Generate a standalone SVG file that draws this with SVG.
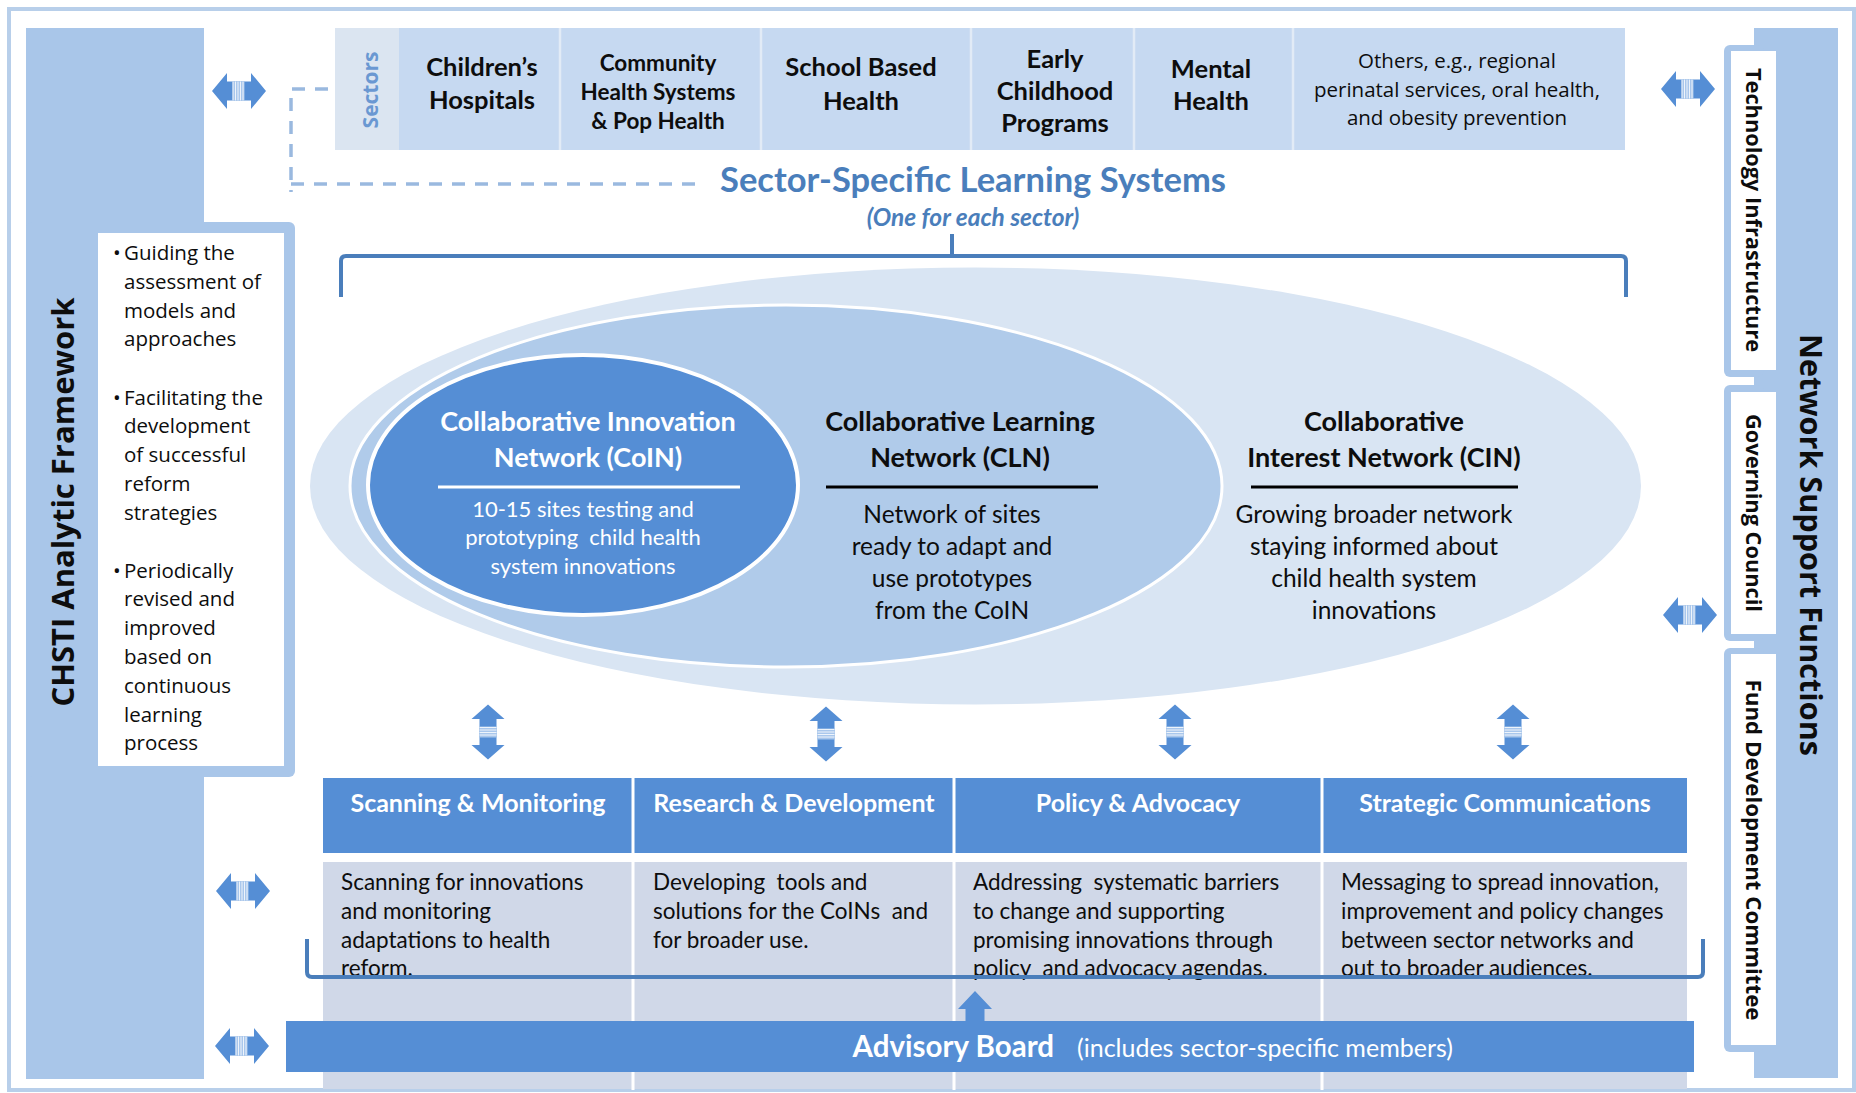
<svg xmlns="http://www.w3.org/2000/svg" xmlns:xlink="http://www.w3.org/1999/xlink" width="1856" height="1093" viewBox="0 0 1856 1093">
<style>
  .cal{font-family:Lato,"Open Sans","Liberation Sans",sans-serif}
  .seg{font-family:"Open Sans","Noto Sans","Liberation Sans",sans-serif}
  .b{font-weight:700}
  .it{font-style:italic}
  .mid{text-anchor:middle}
  .w{fill:#ffffff}
  .k{fill:#0d0d0d}
  .blue{fill:#4a7ebb}
  .panel{fill:#a9c6e9}
  .line{fill:none;stroke:#4a7ebb;stroke-width:4;stroke-linecap:butt}
  .dash{fill:none;stroke:#9ab9df;stroke-width:3.5;stroke-dasharray:13 10}
  .arrow{fill:#558ed5}
  .stripe{stroke:#ffffff;stroke-width:0.9;opacity:0.9}
</style>
<defs>
  <g id="harrow">
    <path class="arrow" d="M-27 0 L-12 -18 L-12 -9.5 L12 -9.5 L12 -18 L27 0 L12 18 L12 9.5 L-12 9.5 L-12 18 Z"/>
    <rect x="-6.5" y="-9.5" width="12" height="19" fill="#a9c7ec"/>
    <path class="stripe" d="M-6 -9.5V9.5M-3.5 -9.5V9.5M-1 -9.5V9.5M1.5 -9.5V9.5M4 -9.5V9.5"/>
  </g>
  <g id="varrow">
    <path class="arrow" d="M0 -27.5 L16.5 -13 H8.5 V13 H16.5 L0 27.5 L-16.5 13 H-8.5 V-13 H-16.5 Z"/>
    <rect x="-8.5" y="-5.5" width="17" height="11" fill="#a9c7ec"/>
    <path class="stripe" d="M-8.5 -4.5H8.5M-8.5 -2H8.5M-8.5 0.5H8.5M-8.5 3H8.5"/>
  </g>
</defs>

<rect x="0" y="0" width="1856" height="1093" fill="#ffffff"/>
<rect id="frame" x="9" y="9" width="1845" height="1081" fill="none" stroke="#b8cfea" stroke-width="4"/>

<g id="analytic-framework">
  <rect class="panel" x="26" y="28" width="178" height="1051"/>
  <rect class="panel" x="26" y="222" width="269" height="555" rx="6"/>
  <rect x="98" y="233" width="186" height="533" fill="#ffffff"/>
  <text class="seg b k" font-size="31" text-anchor="middle" transform="translate(74,502) rotate(-90)" textLength="409" lengthAdjust="spacingAndGlyphs">CHSTI Analytic Framework</text>
  <g class="seg k" font-size="20.5">
    <text x="113" y="260">•</text>
    <text x="124" y="260"><tspan x="124">Guiding the</tspan><tspan x="124" dy="28.8">assessment of</tspan><tspan x="124" dy="28.8">models and</tspan><tspan x="124" dy="28.8">approaches</tspan></text>
    <text x="113" y="404.5">•</text>
    <text x="124" y="404.5"><tspan x="124">Facilitating the</tspan><tspan x="124" dy="28.8">development</tspan><tspan x="124" dy="28.8">of successful</tspan><tspan x="124" dy="28.8">reform</tspan><tspan x="124" dy="28.8">strategies</tspan></text>
    <text x="113" y="577.5">•</text>
    <text x="124" y="577.5"><tspan x="124">Periodically</tspan><tspan x="124" dy="28.8">revised and</tspan><tspan x="124" dy="28.8">improved</tspan><tspan x="124" dy="28.8">based on</tspan><tspan x="124" dy="28.8">continuous</tspan><tspan x="124" dy="28.8">learning</tspan><tspan x="124" dy="28.8">process</tspan></text>
  </g>
</g>

<g id="network-support-functions">
  <rect class="panel" x="1754" y="28" width="84" height="1050"/>
  <text class="seg b k" font-size="30" text-anchor="middle" transform="translate(1800,545) rotate(90)" textLength="422" lengthAdjust="spacingAndGlyphs">Network Support Functions</text>
  <g id="technology-infrastructure">
    <rect class="panel" x="1724" y="45" width="40" height="332" rx="6"/>
    <rect x="1731" y="51" width="45" height="319" fill="#ffffff"/>
    <text class="seg b k" font-size="21" text-anchor="middle" transform="translate(1746,210) rotate(90)" textLength="284" lengthAdjust="spacingAndGlyphs">Technology Infrastructure</text>
  </g>
  <g id="governing-council">
    <rect class="panel" x="1724" y="385" width="40" height="256" rx="6"/>
    <rect x="1731" y="392" width="45" height="242" fill="#ffffff"/>
    <text class="seg b k" font-size="21" text-anchor="middle" transform="translate(1746,513) rotate(90)" textLength="198" lengthAdjust="spacingAndGlyphs">Governing Council</text>
  </g>
  <g id="fund-development-committee">
    <rect class="panel" x="1724" y="648" width="40" height="404" rx="6"/>
    <rect x="1731" y="654" width="45" height="391" fill="#ffffff"/>
    <text class="seg b k" font-size="21" text-anchor="middle" transform="translate(1746,850) rotate(90)" textLength="341" lengthAdjust="spacingAndGlyphs">Fund Development Committee</text>
  </g>
</g>

<g id="sectors">
  <rect x="335" y="28" width="1290" height="122" fill="#c6d9f1"/>
  <rect x="335" y="28" width="64" height="122" fill="#dbe5f1"/>
  <path d="M560 28V150M761 28V150M971 28V150M1134 28V150M1293 28V150" stroke="#e2ebf6" stroke-width="2.5"/>
  <text class="seg b" fill="#6a98d2" font-size="21" text-anchor="middle" transform="translate(378,90) rotate(-90)">Sectors</text>
  <g class="cal b k mid" font-size="25.5">
    <text x="482" y="76">Children’s</text>
    <text x="482" y="109">Hospitals</text>
    <text x="861" y="76">School Based</text>
    <text x="861" y="110">Health</text>
    <text x="1055" y="68">Early</text>
    <text x="1055" y="100">Childhood</text>
    <text x="1055" y="132">Programs</text>
    <text x="1211" y="78">Mental</text>
    <text x="1211" y="110">Health</text>
  </g>
  <g class="cal b k mid" font-size="22.5">
    <text x="658" y="71">Community</text>
    <text x="658" y="100">Health Systems</text>
    <text x="658" y="129">&amp; Pop Health</text>
  </g>
  <g class="seg k mid" font-size="20.5">
    <text x="1457" y="68">Others, e.g., regional</text>
    <text x="1457" y="97">perinatal services, oral health,</text>
    <text x="1457" y="125">and obesity prevention</text>
  </g>
</g>

<g id="sector-specific-learning-systems">
  <text class="cal b blue mid" x="973" y="192" font-size="34.5">Sector-Specific Learning Systems</text>
  <text class="cal b it blue mid" x="973" y="226" font-size="24.5">(One for each sector)</text>
</g>

<g id="cin">
  <ellipse cx="975.5" cy="486" rx="665.5" ry="218.5" fill="#d9e5f3"/>
</g>
<g id="cln">
  <ellipse cx="786" cy="486" rx="436" ry="181" fill="#b0cbea" stroke="#ffffff" stroke-width="3"/>
</g>
<g id="coin">
  <ellipse cx="583" cy="485" rx="215" ry="130" fill="#558ed5" stroke="#ffffff" stroke-width="4"/>
  <g class="cal b w mid" font-size="27">
    <text x="588" y="431">Collaborative Innovation</text>
    <text x="588" y="467">Network (CoIN)</text>
  </g>
  <path d="M438 487H740" stroke="#ffffff" stroke-width="3"/>
  <g class="cal w mid" font-size="22">
    <text x="583" y="517">10-15 sites testing and</text>
    <text x="583" y="545" xml:space="preserve">prototyping  child health</text>
    <text x="583" y="574">system innovations</text>
  </g>
</g>
<g id="cln-text">
  <g class="cal b k mid" font-size="27">
    <text x="960" y="431">Collaborative Learning</text>
    <text x="960" y="467">Network (CLN)</text>
  </g>
  <path d="M826 487H1098" stroke="#000000" stroke-width="3"/>
  <g class="cal k mid" font-size="24.5">
    <text x="952" y="523">Network of sites</text>
    <text x="952" y="555">ready to adapt and</text>
    <text x="952" y="587">use prototypes</text>
    <text x="952" y="619">from the CoIN</text>
  </g>
</g>
<g id="cin-text">
  <g class="cal b k mid" font-size="27">
    <text x="1384" y="431">Collaborative</text>
    <text x="1384" y="467">Interest Network (CIN)</text>
  </g>
  <path d="M1251 487H1518" stroke="#000000" stroke-width="3"/>
  <g class="cal k mid" font-size="24.5">
    <text x="1374" y="523">Growing broader network</text>
    <text x="1374" y="555">staying informed about</text>
    <text x="1374" y="587">child health system</text>
    <text x="1374" y="619">innovations</text>
  </g>
</g>

<g id="functions-table">
  <rect x="323" y="778" width="1364" height="75" fill="#558ed5"/>
  <rect x="323" y="862" width="1364" height="227" fill="#d0d8e8"/>
  <path d="M633 778V1090M954 778V1090M1322 778V1090" stroke="#ffffff" stroke-width="3"/>
  <g id="scanning-monitoring">
    <text class="cal b w mid" x="478" y="812" font-size="25">Scanning &amp; Monitoring</text>
    <g class="cal k" font-size="22.5">
      <text x="341" y="890">Scanning for innovations</text>
      <text x="341" y="919">and monitoring</text>
      <text x="341" y="948">adaptations to health</text>
      <text x="341" y="976">reform.</text>
    </g>
  </g>
  <g id="research-development">
    <text class="cal b w mid" x="794" y="812" font-size="25">Research &amp; Development</text>
    <g class="cal k" font-size="22.5">
      <text x="653" y="890" xml:space="preserve">Developing  tools and</text>
      <text x="653" y="919" xml:space="preserve">solutions for the CoINs  and</text>
      <text x="653" y="948">for broader use.</text>
    </g>
  </g>
  <g id="policy-advocacy">
    <text class="cal b w mid" x="1138" y="812" font-size="25">Policy &amp; Advocacy</text>
    <g class="cal k" font-size="22.5">
      <text x="973" y="890" xml:space="preserve">Addressing  systematic barriers</text>
      <text x="973" y="919">to change and supporting</text>
      <text x="973" y="948">promising innovations through</text>
      <text x="973" y="976" xml:space="preserve">policy  and advocacy agendas.</text>
    </g>
  </g>
  <g id="strategic-communications">
    <text class="cal b w mid" x="1505" y="812" font-size="25">Strategic Communications</text>
    <g class="cal k" font-size="22.5">
      <text x="1341" y="890">Messaging to spread innovation,</text>
      <text x="1341" y="919">improvement and policy changes</text>
      <text x="1341" y="948">between sector networks and</text>
      <text x="1341" y="976">out to broader audiences.</text>
    </g>
  </g>
</g>

<g id="advisory-board">
  <rect x="286" y="1021" width="1408" height="51" fill="#558ed5"/>
  <text class="cal b w" x="1054" y="1057" font-size="29.5" text-anchor="end">Advisory Board</text>
  <text class="cal w" x="1077" y="1057" font-size="25">(includes sector-specific members)</text>
</g>

<g id="connectors">
  <path class="dash" d="M328 89H291V192"/>
  <path class="dash" d="M291 184H700"/>
  <path class="line" d="M341 297V261Q341 256 346 256H1621Q1626 256 1626 261V297M952 234V256"/>
  <path class="line" d="M307 939V972Q307 977 312 977H1698Q1703 977 1703 972V939"/>
  <path class="arrow" d="M975 991L992 1009H984.5V1021H965.5V1009H958Z"/>
  <use xlink:href="#harrow" href="#harrow" transform="translate(239,91)"/>
  <use xlink:href="#harrow" href="#harrow" transform="translate(1688,89)"/>
  <use xlink:href="#harrow" href="#harrow" transform="translate(1690,615)"/>
  <use xlink:href="#harrow" href="#harrow" transform="translate(243,891)"/>
  <use xlink:href="#harrow" href="#harrow" transform="translate(242,1046)"/>
  <use xlink:href="#varrow" href="#varrow" transform="translate(488,732)"/>
  <use xlink:href="#varrow" href="#varrow" transform="translate(826,734)"/>
  <use xlink:href="#varrow" href="#varrow" transform="translate(1175,732)"/>
  <use xlink:href="#varrow" href="#varrow" transform="translate(1513,732)"/>
</g>
</svg>
